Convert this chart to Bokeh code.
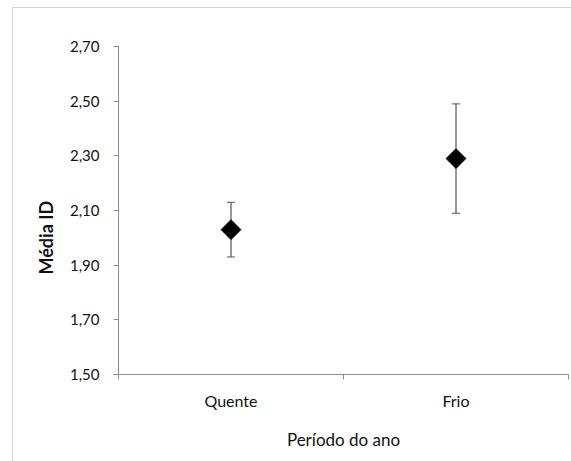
import numpy as np
from bokeh.plotting import figure
from bokeh.models import ColumnDataSource, Whisker, TeeHead, FixedTicker, Range1d, Title
from bokeh.embed import file_html
from bokeh.resources import INLINE

# Mean ID by season, with error intervals
periods = ["Quente", "Frio"]
means = [2.03, 2.29]
upper = [2.13, 2.49]
lower = [1.93, 2.09]

y_ticks = [1.50, 1.70, 1.90, 2.10, 2.30, 2.50, 2.70]

xpos = [i + 0.5 for i in range(len(periods))]
src = ColumnDataSource(dict(x=xpos, mean=means, upper=upper, lower=lower))

FONT = "Lato"
AXIS_GREY = "#8c8c8c"

p = figure(width=559, height=454, output_backend="svg", toolbar_location=None,
           x_range=Range1d(0, len(periods)), y_range=Range1d(1.5, 2.7),
           min_border_left=105, min_border_right=4, min_border_top=38,
           min_border_bottom=88, margin=(7, 0, 0, 12))
p.styles = {"border-left": "1px solid #d4d4d4", "border-top": "1px solid #d4d4d4"}
p.outline_line_color = None
p.xgrid.visible = False
p.ygrid.visible = False

# x axis: labels at category centres, tick marks at category boundaries
p.xaxis.ticker = FixedTicker(ticks=xpos, minor_ticks=list(range(len(periods) + 1)))
p.xaxis.major_label_overrides = {x: name for x, name in zip(xpos, periods)}
p.xaxis.major_tick_line_color = None
p.xaxis.minor_tick_line_color = AXIS_GREY
p.xaxis.minor_tick_out = 5
p.xaxis.minor_tick_in = 0
p.xaxis.axis_label = "Período do ano"

# y axis with comma decimals
p.yaxis.ticker = FixedTicker(ticks=y_ticks, minor_ticks=[])
p.yaxis.major_label_overrides = {t: f"{t:.2f}".replace(".", ",") for t in y_ticks}
p.yaxis.major_tick_out = 5
p.yaxis.major_tick_in = 0
p.yaxis.major_tick_line_color = AXIS_GREY

for ax in (p.xaxis, p.yaxis):
    ax.axis_line_color = AXIS_GREY
    ax.major_label_text_font = FONT
    ax.major_label_text_color = "#111111"
    ax.axis_label_text_font = FONT
    ax.axis_label_text_color = "#111111"

p.yaxis.major_label_text_font_size = "15px"
p.xaxis.major_label_text_font_size = "16px"
p.xaxis.axis_label_text_font_size = "17px"
p.xaxis.axis_label_text_font_style = "normal"
p.xaxis.major_label_standoff = 10
p.xaxis.axis_label_standoff = 16
p.yaxis.major_label_standoff = 14

# y axis title as a side title, shifted a little below mid-height
ytitle = Title(text="Média ID", align="left", offset=100, standoff=20,
               text_font=FONT, text_font_size="18px", text_font_style="bold",
               text_color="#111111")
p.add_layout(ytitle, "left")

whisk = Whisker(source=src, base="x", upper="upper", lower="lower", dimension="height",
                line_color="#333333", line_width=1,
                upper_head=TeeHead(size=8, line_color="#555555", line_width=1),
                lower_head=TeeHead(size=8, line_color="#555555", line_width=1))
p.add_layout(whisk)

p.scatter("x", "mean", source=src, marker="square", angle=np.pi / 4, size=14,
          fill_color="black", line_color="black")

open("out.html", "w").write(file_html(p, INLINE))
